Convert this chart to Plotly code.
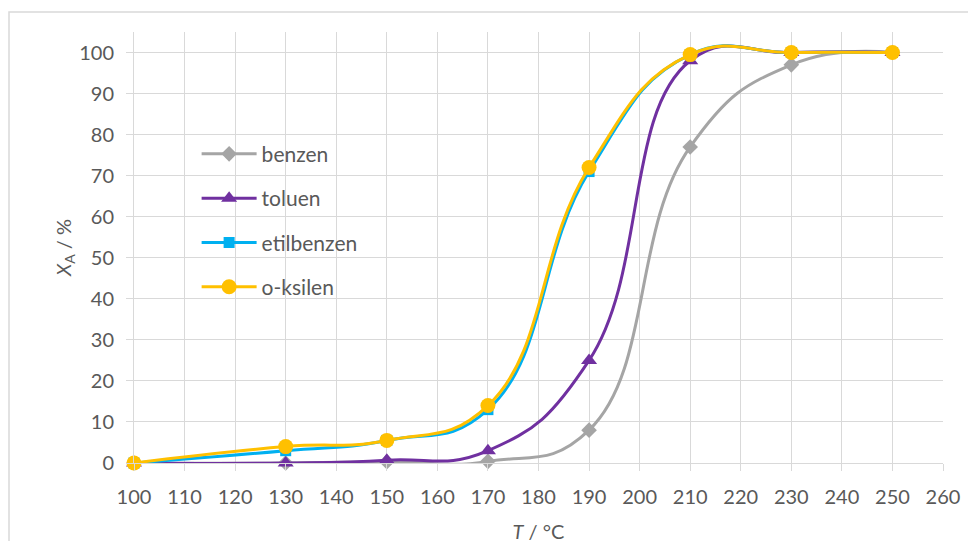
import plotly.graph_objects as go

temps = [100, 130, 150, 170, 190, 210, 230, 250]
benzen = [0, 0, 0.3, 0.4, 8, 77, 97, 100]
toluen = [0, 0, 0.7, 3, 25, 98, 100, 100]
etilbenzen = [0, 3, 5.5, 13, 71, 99.5, 100, 100]
oksilen = [0, 4, 5.5, 14, 72, 99.5, 100, 100]

names = ["benzen", "toluen", "etilbenzen", "o-ksilen"]
series = [benzen, toluen, etilbenzen, oksilen]
colors = ["#a5a5a5", "#7030a0", "#00b0f0", "#ffc000"]
symbols = ["diamond", "triangle-up", "square", "circle"]
sizes = [12, 14, 11, 15]

x_ticks = list(range(100, 261, 10))
y_ticks = list(range(0, 101, 10))

FONT = "Lato"
TXT = "#595959"
GRID = "#d9d9d9"

fig = go.Figure()
for i, (n, s) in enumerate(zip(names, series)):
    fig.add_trace(go.Scatter(
        x=temps, y=s, name=n, mode="lines+markers",
        line=dict(color=colors[i], width=3, shape="spline", smoothing=1.3),
        marker=dict(symbol=symbols[i], size=sizes[i], color=colors[i]),
        legendgroup=n, cliponaxis=False,
    ))

# page body has an 8px default margin, compensate
L, T, PW, PH = 126, 24, 809, 431

fig.update_layout(
    width=976, height=541,
    margin=dict(l=L, r=976 - L - PW, t=T, b=541 - T - PH),
    paper_bgcolor="white", plot_bgcolor="white",
    font=dict(family=FONT, size=20, color=TXT),
    showlegend=True,
    legend=dict(x=0.0774, y=0.764, xanchor="left", yanchor="top",
                bgcolor="rgba(0,0,0,0)", font=dict(size=21, color=TXT),
                tracegroupgap=14, itemwidth=55),
    xaxis=dict(range=[100, 260], tickvals=x_ticks, ticktext=[str(v) for v in x_ticks],
               showgrid=True, gridcolor=GRID, gridwidth=1,
               showline=True, linecolor=GRID, linewidth=1,
               ticks="outside", ticklen=7, tickcolor=GRID,
               zeroline=False, automargin=False, ticklabelstandoff=9,
               tickfont=dict(size=20, color=TXT),
               title=dict(text="<i>T</i> / °C", font=dict(size=20, color=TXT), standoff=17)),
    yaxis=dict(range=[0, 105], tickvals=y_ticks, ticktext=[str(v) for v in y_ticks],
               showgrid=True, gridcolor=GRID, gridwidth=1,
               showline=True, linecolor=GRID, linewidth=1,
               ticks="outside", ticklen=7, tickcolor=GRID,
               zeroline=False, automargin=False, ticklabelstandoff=8,
               tickfont=dict(size=20, color=TXT),
               title=dict(text="<i>X</i><sub>A</sub> / %", font=dict(size=20, color=TXT), standoff=2)),
)

# outer chart border
fig.add_shape(type="rect", xref="paper", yref="paper",
              x0=(1 - L) / PW, x1=1.2, y0=-0.3, y1=(T + PH - 4) / PH,
              line=dict(color=GRID, width=1.5), fillcolor="rgba(0,0,0,0)", layer="below")

fig.write_html("out.html")
